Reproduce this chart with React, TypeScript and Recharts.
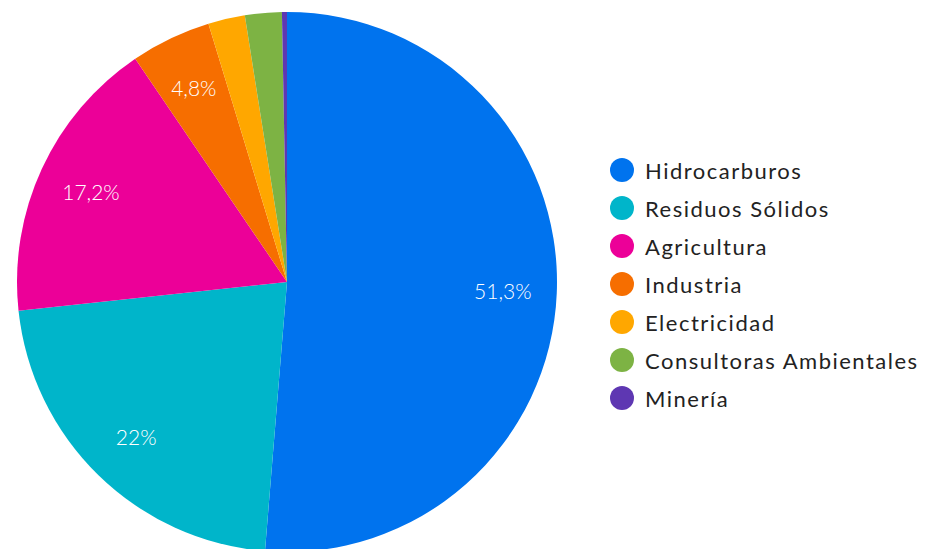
import { Cell, Legend, Pie, PieChart } from "recharts";

const sectores = [
  "Hidrocarburos",
  "Residuos Sólidos",
  "Agricultura",
  "Industria",
  "Electricidad",
  "Consultoras Ambientales",
  "Minería",
];
const porcentajes = [51.3, 22, 17.2, 4.8, 2.2, 2.2, 0.3];
const colores = [
  "#0073EE",
  "#00B5CA",
  "#EC0098",
  "#F66E00",
  "#FFA700",
  "#7DB344",
  "#5E37B2",
];

const data = sectores.map((nombre, i) => ({ nombre, valor: porcentajes[i] }));

const FONT = "Lato, 'Noto Sans', sans-serif";
const RAD = Math.PI / 180;

function Etiqueta(props: any) {
  const { cx, cy, midAngle, outerRadius, value } = props;
  if (value < 4) return null;
  const r = outerRadius * 0.8;
  const x = cx + r * Math.cos(-midAngle * RAD);
  const y = cy + r * Math.sin(-midAngle * RAD);
  return (
    <text
      x={x}
      y={y}
      fill="#fff"
      fontSize={21}
      fontWeight={300}
      fontFamily={FONT}
      textAnchor="middle"
      dominantBaseline="central"
    >
      {String(value).replace(".", ",")}%
    </text>
  );
}

// leyenda en el mismo orden que los datos
function Leyenda() {
  return (
    <ul style={{ listStyle: "none", margin: 0, padding: 0 }}>
      {sectores.map((s, i) => (
        <li
          key={s}
          style={{
            display: "flex",
            alignItems: "center",
            height: 38,
            fontFamily: FONT,
            fontSize: 22,
            letterSpacing: 1.5,
            color: "#222",
          }}
        >
          <span
            style={{
              width: 24,
              height: 24,
              borderRadius: "50%",
              background: colores[i],
              marginRight: 11,
              flexShrink: 0,
            }}
          />
          {s}
        </li>
      ))}
    </ul>
  );
}

export default function App() {
  return (
    <div style={{ position: "absolute", left: 0, top: 0 }}>
      <PieChart width={944} height={549} margin={{ top: 0, right: 0, bottom: 0, left: 0 }}>
        <Pie
          data={data}
          dataKey="valor"
          nameKey="nombre"
          cx={287}
          cy={282}
          outerRadius={270}
          startAngle={90}
          endAngle={-270}
          stroke="none"
          label={Etiqueta}
          labelLine={false}
          isAnimationActive={false}
        >
          {data.map((d, i) => (
            <Cell key={d.nombre} fill={colores[i]} />
          ))}
        </Pie>
        <Legend
          layout="vertical"
          content={<Leyenda />}
          wrapperStyle={{ left: 610, top: 151, width: 334 }}
        />
      </PieChart>
    </div>
  );
}
